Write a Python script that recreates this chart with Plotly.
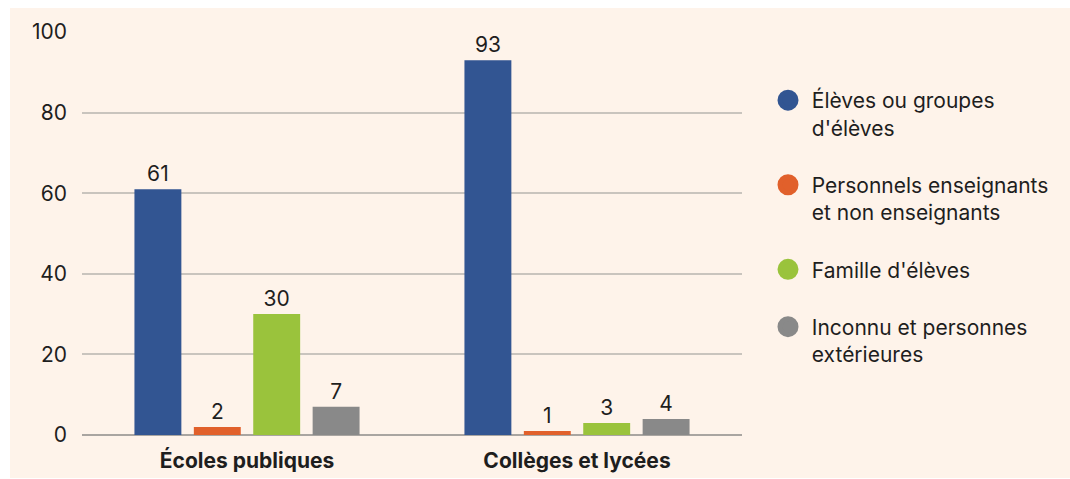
import plotly.graph_objects as go

categories = ["Écoles publiques", "Collèges et lycées"]
series_names = ["Élèves ou groupes<br>d'élèves",
                "Personnels enseignants<br>et non enseignants",
                "Famille d'élèves",
                "Inconnu et personnes<br>extérieures"]
series_values = [
    [61, 93],
    [2, 1],
    [30, 3],
    [7, 4],
]
colors = ["#325592", "#e1602b", "#9ac33c", "#898989"]
y_ticks = [0, 20, 40, 60, 80, 100]

FONT = "Inter"
TXT = "#1e1e1e"
BG = "#fef3ea"
FS = 21

fig = go.Figure()
for name, vals, col in zip(series_names, series_values, colors):
    fig.add_trace(go.Bar(
        x=categories, y=vals, marker=dict(color=col, line=dict(width=0)),
        text=[str(v) for v in vals], textposition="outside",
        textfont=dict(family=FONT, size=FS, color=TXT),
        cliponaxis=False, showlegend=False,
    ))

pad = "\u2009"
for i, (name, col) in enumerate(zip(series_names, colors)):
    label = "<br>".join(pad + part for part in name.split("<br>"))
    fig.add_trace(go.Scatter(
        x=[None], y=[None], mode="markers", name=label,
        marker=dict(color=col, size=26, symbol="circle",
                    line=dict(color=col, width=6)),
        legendgroup=f"g{i}", showlegend=True,
    ))

W, H = 1070, 479
L, R, T, B = 82, 328, 32, 44
pw, ph = W - L - R, H - T - B

fig.add_shape(type="rect", xref="paper", yref="paper", layer="below",
              x0=(10 - L) / pw, x1=(W + 5 - L) / pw,
              y0=(H - B - 478) / ph, y1=(H - B - 8) / ph,
              fillcolor=BG, line=dict(width=0))

fig.update_layout(
    width=W, height=H,
    margin=dict(l=L, r=R, t=T, b=B, autoexpand=False),
    paper_bgcolor="white", plot_bgcolor="rgba(0,0,0,0)",
    barmode="group", bargap=0.28, bargroupgap=0.21,
    font=dict(family=FONT, size=FS, color=TXT),
    legend=dict(
        xref="container", yref="container",
        x=768 / W, y=1 - 80 / H, xanchor="left", yanchor="top",
        valign="top", tracegroupgap=27, itemsizing="trace",
        maxheight=440,
        font=dict(family=FONT, size=FS, color=TXT),
        bgcolor="rgba(0,0,0,0)",
    ),
    xaxis=dict(showgrid=False, showline=False, ticks="", automargin=False,
               ticklabelstandoff=11,
               tickfont=dict(family=FONT, size=FS, color=TXT, weight="bold")),
    yaxis=dict(range=[0, 100], tickvals=y_ticks, showgrid=True, automargin=False,
               gridcolor="#c9c4be", gridwidth=1.5, zeroline=True,
               zerolinecolor="#a9a5a1", zerolinewidth=1.5,
               ticks="", ticklabelstandoff=14,
               tickfont=dict(family=FONT, size=FS, color=TXT)),
)

fig.write_html("out.html", config={"displayModeBar": False},
               post_script="document.body.style.margin='0px';")
